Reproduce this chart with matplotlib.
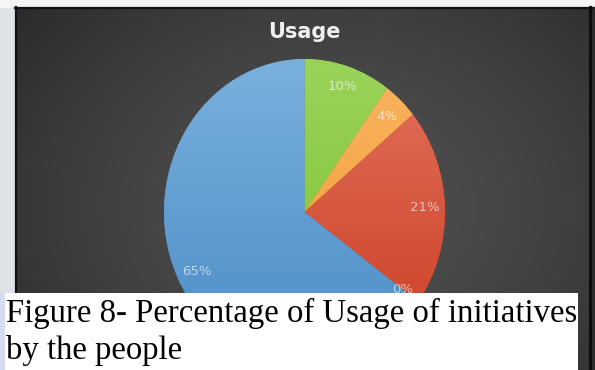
import numpy as np
import matplotlib
matplotlib.use('Agg')
import matplotlib.pyplot as plt
from matplotlib.patches import Rectangle
from matplotlib.colors import to_rgb

# ---- data ----
categories = ['A', 'B', 'C', 'D', 'E']
values = [10, 4, 21, 0, 65]
pct_labels = ['10%', '4%', '21%', '0%', '65%']
colors_top = ['#9ad35a', '#f8b460', '#e2725e', '#e2725e', '#7ab0dc']
colors_bot = ['#7cbf2e', '#f39a30', '#cb3d22', '#cb3d22', '#4a8cc7']
title = 'Usage'
caption_line1 = 'Figure 8- Percentage of Usage of initiatives'
caption_line2 = 'by the people'

W, H = 595, 370
fig = plt.figure(figsize=(W / 100, H / 100), dpi=100)
fig.patch.set_facecolor('white')


def fx(x):
    return x / W


def fy(y):
    return 1 - y / H


# ---- background (page + dark chart box) ----
bg = fig.add_axes([0, 0, 1, 1], zorder=-2)
bg.set_xlim(0, W)
bg.set_ylim(H, 0)
bg.axis('off')
bg.add_patch(Rectangle((0, 0), 15, H, color='#dde3e8', zorder=0))
bg.add_patch(Rectangle((0, 0), W, 7, color='#f4f5f6', zorder=0))

bx0, bx1, by0, by1 = 15, 592, 7, 370
ny, nx = 200, 300
gy, gx = np.mgrid[0:ny, 0:nx]
u = gx / (nx - 1)
v = gy / (ny - 1)
d = np.sqrt(((u - 0.55) / 0.75) ** 2 + ((v - 0.55) / 0.95) ** 2)
lev = np.clip(0.31 - 0.16 * d ** 1.6, 0.14, 0.32)
img = np.dstack([lev, lev, lev])
bg.imshow(img, extent=(bx0, bx1, by1, by0), aspect='auto', zorder=1,
          interpolation='bilinear')
bg.plot([bx0 + 0.5, bx0 + 0.5], [by0, by1], color='#111111', lw=1.6, zorder=2)
bg.plot([bx0, bx1], [by0 + 0.5, by0 + 0.5], color='#111111', lw=1.6, zorder=2)
bg.add_patch(Rectangle((bx1, by0), W - bx1, by1 - by0, color='#2c2c2c', zorder=1))
bg.plot([590, 590], [by0, by1], color='#0c0c0c', lw=2.2, zorder=2)

# ---- pie ----
ax = fig.add_axes([fx(164), fy(365), 281 / W, 306 / H])
wedges, _ = ax.pie(values, colors=colors_bot, startangle=90, counterclock=False,
                   radius=1, wedgeprops=dict(linewidth=0))
grad = np.linspace(0, 1, 256)[:, None]
for w, ct, cb in zip(wedges, colors_top, colors_bot):
    w.set_clip_on(False)
    t = np.array(to_rgb(ct))
    b = np.array(to_rgb(cb))
    arr = t[None, None, :] * (1 - grad[:, :, None]) + b[None, None, :] * grad[:, :, None]
    im = ax.imshow(arr, extent=(-1, 1, -1, 1), aspect='auto', zorder=2,
                   interpolation='bilinear')
    im.set_clip_path(w)

for w, lab in zip(wedges, pct_labels):
    ang = np.deg2rad((w.theta1 + w.theta2) / 2)
    r = 0.86
    ax.text(r * np.cos(ang), r * np.sin(ang), lab, ha='center', va='center',
            fontsize=9.5, color='white', alpha=0.62, zorder=4,
            family='DejaVu Sans')
ax.set_xlim(-1, 1)
ax.set_ylim(-1, 1)
ax.set_aspect('auto')
ax.axis('off')

# ---- title ----
fig.text(fx(304), fy(38), title, ha='center', va='baseline', fontsize=15,
         fontweight='bold', color='#f0f0f0', family='DejaVu Sans')

# ---- caption box ----
fig.patches.append(Rectangle((0, 0), fx(578), fy(293), transform=fig.transFigure,
                             facecolor='white', edgecolor='none', zorder=5))
fig.patches.append(Rectangle((0, 0), fx(4.5), fy(293), transform=fig.transFigure,
                             facecolor='#d6ddf5', edgecolor='none', zorder=6))

t1 = fig.text(fx(6), fy(322), caption_line1, ha='left', va='baseline',
              fontsize=22, family='Liberation Serif', color='black', zorder=7)
fig.canvas.draw()
wpx = t1.get_window_extent().width
t1.set_fontsize(22 * 570 / wpx)
fig.text(fx(6), fy(359), caption_line2, ha='left', va='baseline',
         fontsize=t1.get_fontsize(), family='Liberation Serif', color='black', zorder=7)

fig.savefig('out.png', dpi=100)
